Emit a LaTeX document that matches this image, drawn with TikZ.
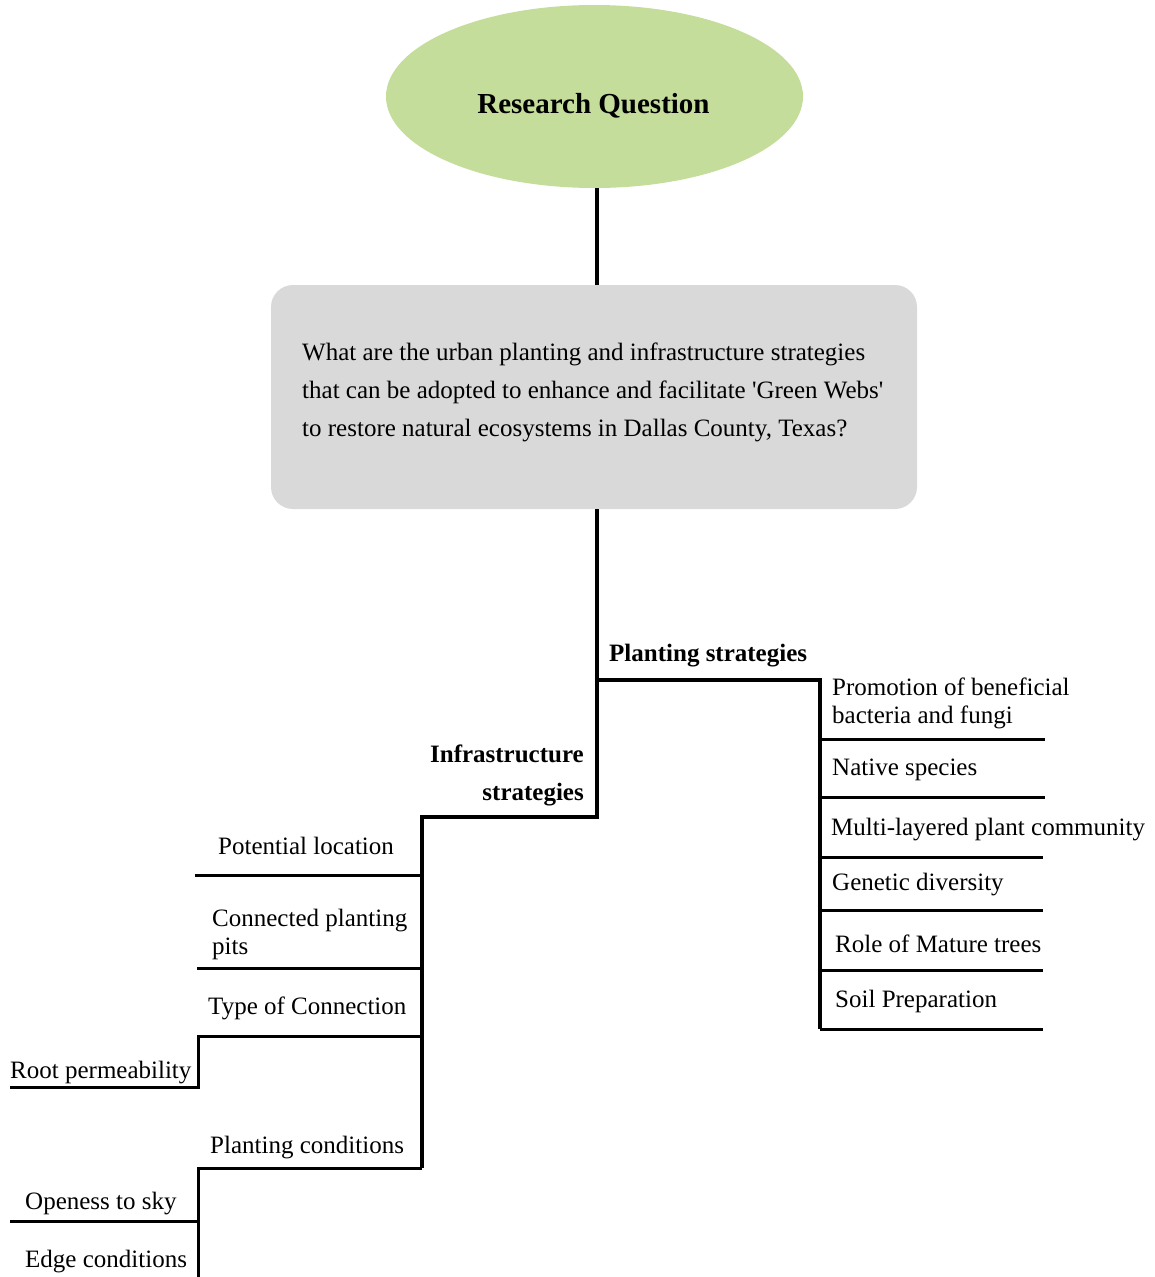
\documentclass[tikz,border=0pt]{standalone}
\usepackage{fontspec}
\setmainfont{Liberation Serif}[Ligatures=TeXOff]
\usetikzlibrary{shapes.geometric}
\definecolor{rqgreen}{RGB}{196,221,155}
\definecolor{qgray}{RGB}{217,217,217}
\begin{document}
\begin{tikzpicture}[x=1pt,y=-1pt,
  lbl/.style={inner sep=0pt, anchor=base west, font=\fontsize{25}{30}\selectfont},
  lblr/.style={inner sep=0pt, anchor=base east, font=\fontsize{25}{30}\selectfont\bfseries},
  bold/.style={lbl, font=\fontsize{25}{30}\selectfont\bfseries},
  trunk/.style={line width=4.5pt},
  branch/.style={line width=4pt},
  leaf/.style={line width=3pt}]
\useasboundingbox (0,0) rectangle (1154,1277);

% top ellipse
\node[ellipse, fill=rqgreen, minimum width=417pt, minimum height=183pt, inner sep=0pt] (rq) at (594.5,96.5) {};
\node[inner sep=0pt, anchor=base, font=\fontsize{29}{34}\selectfont\bfseries] (rqt) at (593.5,113) {Research Question};

% question box
\node[rectangle, rounded corners=22pt, fill=qgray, minimum width=646pt, minimum height=224pt, inner sep=0pt] (qbox) at (594,397) {};
\node[lbl] (q1) at (302,360) {What are the urban planting and infrastructure strategies};
\node[lbl] (q2) at (302,398) {that can be adopted to enhance and facilitate 'Green Webs'};
\node[lbl] (q3) at (302,436) {to restore natural ecosystems in Dallas County, Texas?};

% junction coordinates
\coordinate (t0) at (597,188);
\coordinate (t1) at (597,285);
\coordinate (j0) at (597,509);
\coordinate (jP) at (597,680);
\coordinate (jI) at (597,817);
\coordinate (pR) at (820,680);
\coordinate (pB) at (820,1029);
\coordinate (iL) at (422,817);
\coordinate (iB) at (422,1168);

\draw[trunk] (t0) -- (t1);
\draw[trunk] (j0) -- (jI) -- (iL) -- (iB);
\draw[branch] (jP) -- (pR) -- (pB);

% planting strategies branch
\node[bold] (ps) at (609,661) {Planting strategies};
\node[lbl] (r1a) at (832,695) {Promotion of beneficial};
\node[lbl] (r1b) at (832,723) {bacteria and fungi};
\node[lbl] (r2) at (832,775) {Native species};
\node[lbl] (r3) at (831,835) {Multi-layered plant community};
\node[lbl] (r4) at (832,890) {Genetic diversity};
\node[lbl] (r5) at (835,952) {Role of Mature trees};
\node[lbl] (r6) at (835,1007) {Soil Preparation};

\foreach \yy/\xe [count=\i] in {739/1045,797/1045,857/1043,910/1043,970/1043,1029/1043}{
  \coordinate (rl\i) at (820,\yy);
  \coordinate (rr\i) at (\xe,\yy);
  \draw[leaf] (rl\i) -- (rr\i);
}

% infrastructure strategies branch
\node[lblr] (is1) at (584,762) {Infrastructure};
\node[lblr] (is2) at (584,800) {strategies};
\node[lbl] (l1) at (218,854) {Potential location};
\node[lbl] (l2a) at (212,926) {Connected planting};
\node[lbl] (l2b) at (212,954) {pits};
\node[lbl] (l3) at (208,1014) {Type of Connection};
\node[lbl] (l3a) at (10,1078) {Root permeability};
\node[lbl] (l4) at (210,1153) {Planting conditions};
\node[lbl] (l4a) at (25,1209) {Openess to sky};
\node[lbl] (l4b) at (25,1267) {Edge conditions};

\coordinate (a1) at (422,875); \coordinate (b1) at (195,875);
\coordinate (a2) at (422,968); \coordinate (b2) at (197,968);
\coordinate (a3) at (422,1036); \coordinate (b3) at (198,1036);
\coordinate (c3) at (198,1087); \coordinate (d3) at (10,1087);
\coordinate (b4) at (198,1168); \coordinate (c4) at (198,1277);
\coordinate (e4) at (198,1221); \coordinate (f4) at (10,1221);

\draw[leaf] (a1) -- (b1);
\draw[leaf] (a2) -- (b2);
\draw[leaf] (a3) -- (b3) -- (c3) -- (d3);
\draw[leaf] (iB) -- (b4) -- (c4);
\draw[leaf] (e4) -- (f4);
\end{tikzpicture}
\end{document}
